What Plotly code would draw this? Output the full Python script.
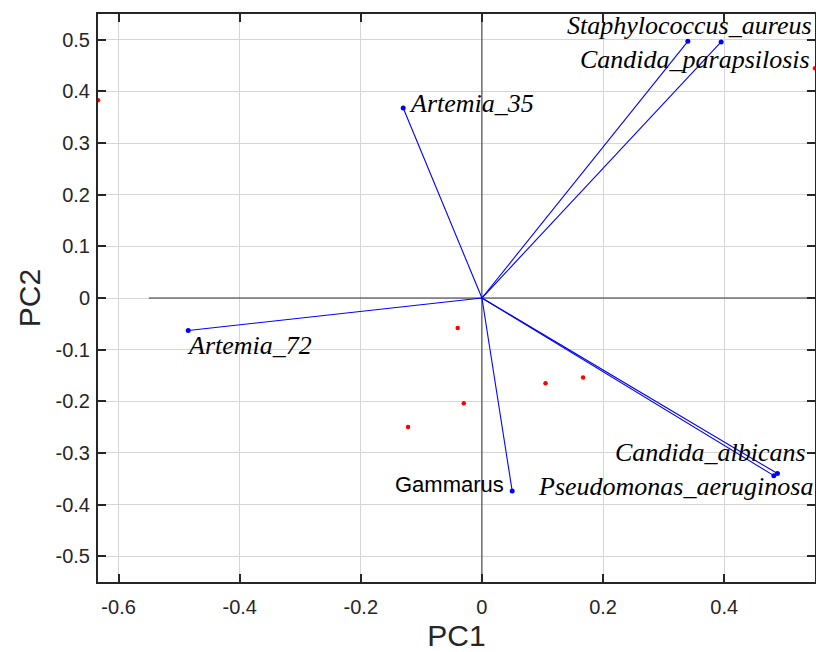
import plotly.graph_objects as go

# Loadings (variable vectors)
var_names = ["Staphylococcus_aureus", "Candida_parapsilosis", "Artemia_35", "Artemia_72",
             "Gammarus", "Candida_albicans", "Pseudomonas_aeruginosa"]
var_pc1 = [0.340, 0.395, -0.130, -0.485, 0.050, 0.488, 0.482]
var_pc2 = [0.497, 0.496, 0.368, -0.063, -0.374, -0.340, -0.344]

# Scores (observations)
obs_pc1 = [-0.634, -0.040, -0.030, -0.122, 0.105, 0.167, 0.550]
obs_pc2 = [0.383, -0.058, -0.204, -0.250, -0.165, -0.154, 0.445]

axis_extent = 0.55
x_ticks = [-0.6, -0.4, -0.2, 0, 0.2, 0.4]
y_ticks = [-0.5, -0.4, -0.3, -0.2, -0.1, 0, 0.1, 0.2, 0.3, 0.4, 0.5]

# label placement (pixel offsets from vector tips): name -> (xanchor, xshift, yshift, serif)
label_style = {
    "Staphylococcus_aureus": ("right", 125, 16, True),
    "Candida_parapsilosis": ("right", 90, -18, True),
    "Artemia_35": ("left", 5, 4, True),
    "Artemia_72": ("left", -2, -15, True),
    "Gammarus": ("right", -7, 7, False),
    "Candida_albicans": ("right", 30, 21, True),
    "Pseudomonas_aeruginosa": ("right", 40, -11, True),
}

fig = go.Figure()

# biplot axis lines
fig.add_trace(go.Scatter(x=[-axis_extent, axis_extent], y=[0, 0], mode="lines",
                         line=dict(color="#333333", width=1), hoverinfo="skip", showlegend=False))
fig.add_trace(go.Scatter(x=[0, 0], y=[-axis_extent, axis_extent], mode="lines",
                         line=dict(color="#333333", width=1), hoverinfo="skip", showlegend=False))

# vectors
lx, ly = [], []
for a, b in zip(var_pc1, var_pc2):
    lx += [0, a, None]
    ly += [0, b, None]
fig.add_trace(go.Scatter(x=lx, y=ly, mode="lines", line=dict(color="#0000ff", width=1.1),
                         showlegend=False))
fig.add_trace(go.Scatter(x=var_pc1, y=var_pc2, mode="markers",
                         marker=dict(color="#0000ff", size=5), text=var_names, showlegend=False))

# scores
fig.add_trace(go.Scatter(x=obs_pc1, y=obs_pc2, mode="markers",
                         marker=dict(color="#ff0000", size=4.5), showlegend=False))

for name, a, b in zip(var_names, var_pc1, var_pc2):
    anchor, xs, ys, serif = label_style[name]
    if serif:
        font = dict(family="Liberation Serif", size=26, color="black")
        txt = "<i>%s</i>" % name
    else:
        font = dict(family="Liberation Sans", size=22, color="black")
        txt = name
    fig.add_annotation(x=a, y=b, xref="x", yref="y", text=txt, showarrow=False,
                       xanchor=anchor, yanchor="middle", xshift=xs, yshift=ys, font=font,
                       borderpad=0)

axis_common = dict(
    showgrid=True, gridcolor="#d6d6d6", gridwidth=1.2,
    zeroline=False, showline=True, linecolor="#262626", linewidth=2, mirror="ticks",
    ticks="inside", ticklen=8, tickwidth=2, tickcolor="#262626",
    tickfont=dict(family="Liberation Sans", size=20, color="#262626"),
)

fig.update_xaxes(range=[-0.634, 0.550], tickvals=x_ticks,
                 ticktext=["-0.6", "-0.4", "-0.2", "0", "0.2", "0.4"],
                 title=dict(text="PC1", font=dict(family="Liberation Sans", size=30, color="#262626"),
                            standoff=10),
                 ticklabelstandoff=6, **axis_common)
fig.update_yaxes(range=[-0.55, 0.55], tickvals=y_ticks,
                 ticktext=["-0.5", "-0.4", "-0.3", "-0.2", "-0.1", "0", "0.1", "0.2", "0.3", "0.4", "0.5"],
                 title=dict(text="PC2", font=dict(family="Liberation Sans", size=30, color="#262626"),
                            standoff=6),
                 ticklabelstandoff=2, **axis_common)

fig.update_layout(width=816, height=652, plot_bgcolor="white", paper_bgcolor="white",
                  margin=dict(l=98, r=1, t=14, b=70, autoexpand=False))

fig.write_html("out.html", config={"displayModeBar": False},
               post_script="document.body.style.margin='0';document.body.style.overflow='hidden';")
